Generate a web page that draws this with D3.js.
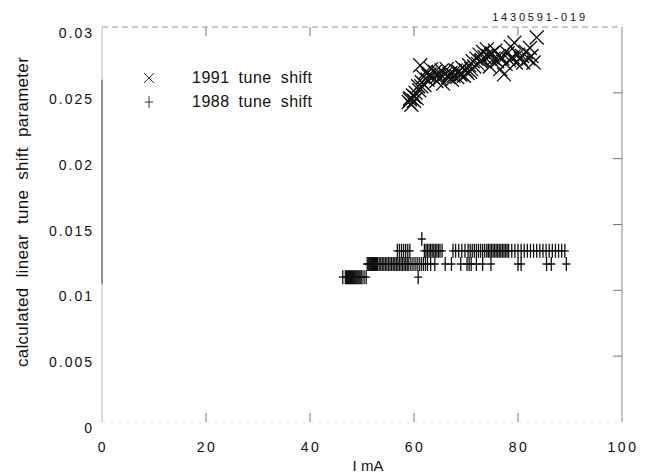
<!DOCTYPE html>
<html>
<head>
<meta charset="utf-8">
<script src="https://cdn.jsdelivr.net/npm/d3@7"></script>
<style>
  body { margin: 0; background: #fff; }
  text { font-family: 'Liberation Sans', Arial, sans-serif; fill: #111; }
</style>
</head>
<body>
<div id="chart"></div>
<script>
// tune shift vs beam current

const xTicks = [0, 20, 40, 60, 80, 100]
const yTicks = [0, 0.005, 0.01, 0.015, 0.02, 0.025, 0.03]
const yTickLabels = ['0', '0.005', '0.01', '0.015', '0.02', '0.025', '0.03']

// 1991 tune shift (x marks): [I mA, parameter]
const shift1991 = [
  [59.0, 0.0243], [59.3, 0.0246], [59.5, 0.0241], [59.8, 0.0248], [60.0, 0.0244],
  [60.3, 0.0250], [60.5, 0.0246], [60.8, 0.0255], [61.0, 0.0252], [61.2, 0.0271],
  [61.5, 0.0258], [61.8, 0.0262], [62.0, 0.0256], [62.3, 0.0266], [62.6, 0.0260],
  [63.0, 0.0264], [63.3, 0.0268], [63.6, 0.0262], [64.0, 0.0266], [64.3, 0.0259],
  [64.6, 0.0263], [65.0, 0.0261], [65.3, 0.0267], [65.6, 0.0257], [66.0, 0.0264],
  [66.3, 0.0268], [66.6, 0.0262], [67.0, 0.0265], [67.3, 0.0260], [67.6, 0.0263],
  [68.0, 0.0267], [68.3, 0.0262], [68.6, 0.0266], [69.0, 0.0264], [69.3, 0.0269],
  [69.6, 0.0263], [70.0, 0.0267], [70.3, 0.0265], [70.6, 0.0271], [71.0, 0.0268],
  [71.3, 0.0274], [71.6, 0.0270], [72.0, 0.0276], [72.3, 0.0272], [72.6, 0.0279],
  [73.0, 0.0275], [73.3, 0.0281], [73.6, 0.0277], [74.0, 0.0283], [74.3, 0.0278],
  [74.6, 0.0270], [75.0, 0.0280], [75.3, 0.0276], [75.6, 0.0282], [76.0, 0.0274],
  [76.3, 0.0278], [76.6, 0.0268], [77.0, 0.0276], [77.3, 0.0264], [77.6, 0.0272],
  [78.0, 0.0280], [78.3, 0.0275], [78.6, 0.0285], [79.0, 0.0277], [79.3, 0.0288],
  [79.6, 0.0273], [80.0, 0.0279], [80.5, 0.0276], [81.0, 0.0273], [81.5, 0.0281],
  [82.0, 0.0276], [82.3, 0.0284], [82.6, 0.0278], [83.0, 0.0273], [83.6, 0.0292],
  [59.2, 0.0245], [60.1, 0.0247], [61.4, 0.0255], [62.8, 0.0263], [64.8, 0.0265],
  [66.8, 0.0264], [68.8, 0.0264], [70.8, 0.0266], [72.8, 0.0274], [74.8, 0.0279],
  [76.8, 0.0277], [78.8, 0.0276], [80.8, 0.0278]
]

// 1988 tune shift (plus marks), values sit on three levels
const current1988at011 = [46.3, 46.8, 47.0, 47.2, 47.4, 47.6, 47.8, 48.0, 48.2, 48.4,
  48.6, 48.8, 49.0, 49.2, 49.4, 49.6, 49.8, 50.0, 50.4, 50.8, 60.8]
const current1988at012 = [51.0, 51.2, 51.4, 51.6, 51.8, 52.0, 52.2, 52.4, 52.6, 52.8,
  53.0, 53.3, 53.6, 53.9, 54.2, 54.5, 54.8, 55.1, 55.4, 55.7, 56.0, 56.3, 56.6, 56.9,
  57.2, 57.5, 57.8, 58.1, 58.4, 58.7, 59.0, 59.4, 59.8, 60.2, 60.6, 61.0, 61.4, 61.8,
  62.2, 62.6, 63.2, 64.0, 66.0, 67.2, 69.0, 70.2, 70.6, 71.0, 72.0, 73.2, 74.8, 80.0,
  80.6, 85.5, 86.4, 89.3]
const current1988at013 = [56.8, 57.2, 57.6, 58.0, 58.4, 58.8, 59.2, 62.0, 62.3, 62.6,
  62.9, 63.2, 63.5, 63.8, 64.1, 64.4, 64.7, 65.0, 65.4, 67.5, 68.0, 68.6, 69.2, 69.8,
  70.4, 70.8, 71.2, 71.6, 72.0, 72.4, 72.8, 73.2, 73.6, 74.0, 74.3, 74.6, 74.9, 75.2,
  75.5, 75.8, 76.1, 76.4, 76.7, 77.0, 77.3, 77.6, 77.9, 78.2, 78.8, 79.4, 80.0, 80.6,
  81.2, 81.8, 82.4, 83.0, 83.6, 84.2, 84.8, 85.4, 86.0, 86.6, 87.2, 87.8, 88.4, 89.0]
const extra1988 = [[61.5, 0.0139]]

const shift1988 = [
  ...current1988at011.map(c => [c, 0.011]),
  ...current1988at012.map(c => [c, 0.012]),
  ...current1988at013.map(c => [c, 0.013]),
  ...extra1988
]

const legendItems = ['1991 tune shift', '1988 tune shift']

const width = 653
const height = 476

const svg = d3.select('#chart')
.append('svg')
.attr('width', width)
.attr('height', height)

const x = d3.scaleLinear()
.domain([0, 100])
.range([102, 622])
const y = d3.scaleLinear()
.domain([0, 0.03])
.range([422, 27])

// frame, faint like the photocopy
const frame = svg.append('g')
.attr('fill', 'none')

frame.append('line')
  .attr('x1', x(0)).attr('x2', x(100)).attr('y1', y(0.03)).attr('y2', y(0.03))
  .attr('stroke', '#999').attr('stroke-dasharray', '6,4')
frame.append('line')
  .attr('x1', x(0)).attr('x2', x(100)).attr('y1', y(0)).attr('y2', y(0))
  .attr('stroke', '#e4e4e4').attr('stroke-dasharray', '3,5')
frame.append('line')
  .attr('x1', x(0)).attr('x2', x(0)).attr('y1', y(0)).attr('y2', y(0.03))
  .attr('stroke', '#bbb')
frame.append('line')
  .attr('x1', x(0)).attr('x2', x(0)).attr('y1', y(0.0105)).attr('y2', y(0.026))
  .attr('stroke', '#444')
frame.append('line')
  .attr('x1', x(100)).attr('x2', x(100)).attr('y1', y(0)).attr('y2', y(0.03))
  .attr('stroke', '#888')

// inward ticks
const tickLen = 9
svg.append('g')
  .selectAll('line')
  .data(xTicks.slice(1, -1))
  .join('line')
  .attr('x1', d => x(d)).attr('x2', d => x(d))
  .attr('y1', y(0)).attr('y2', y(0) - tickLen)
  .attr('stroke', '#777')
svg.append('g')
  .selectAll('line')
  .data(xTicks.slice(1, -1))
  .join('line')
  .attr('x1', d => x(d)).attr('x2', d => x(d))
  .attr('y1', y(0.03)).attr('y2', y(0.03) + tickLen)
  .attr('stroke', '#777')
svg.append('g')
  .selectAll('line')
  .data(yTicks.slice(1, -1))
  .join('line')
  .attr('x1', x(100)).attr('x2', x(100) - tickLen)
  .attr('y1', d => y(d)).attr('y2', d => y(d))
  .attr('stroke', '#777')

// tick labels
svg.append('g')
  .selectAll('text')
  .data(xTicks)
  .join('text')
  .attr('x', d => x(d) + 1)
  .attr('y', 452)
  .attr('text-anchor', 'middle')
  .attr('font-size', 14)
  .attr('letter-spacing', 2.5)
  .text(d => d)

svg.append('g')
  .selectAll('text')
  .data(yTicks)
  .join('text')
  .attr('x', 94)
  .attr('y', d => y(d) + 11)
  .attr('text-anchor', 'end')
  .attr('font-size', 14)
  .attr('letter-spacing', 2)
  .text((d, i) => yTickLabels[i])

svg.append('text')
  .attr('x', 368)
  .attr('y', 471)
  .attr('text-anchor', 'middle')
  .attr('font-size', 15)
  .text('I mA')

svg.append('text')
  .attr('transform', 'translate(28, 212) rotate(-90)')
  .attr('text-anchor', 'middle')
  .attr('font-size', 17)
  .attr('letter-spacing', 0.3)
  .attr('word-spacing', 5)
  .text('calculated  linear tune shift parameter')

svg.append('text')
  .attr('x', 540)
  .attr('y', 21)
  .attr('text-anchor', 'middle')
  .attr('font-size', 11)
  .attr('letter-spacing', 2.8)
  .text('1430591-019')

// markers
const cross = (g, s) => g.append('path')
  .attr('d', `M${-s},${-s}L${s},${s}M${-s},${s}L${s},${-s}`)
const plus = (g, w, h) => g.append('path')
  .attr('d', `M0,${-h}V${h}M${-w},0H${w}`)

const plotG = svg.append('g')
.attr('fill', 'none')

plotG.append('g')
  .attr('stroke', '#111')
  .attr('stroke-width', 1.3)
  .selectAll('g')
  .data(shift1988)
  .join('g')
  .attr('transform', d => `translate(${x(d[0])},${y(d[1])})`)
  .each(function () { plus(d3.select(this), 4, 7) })

plotG.append('g')
  .attr('stroke', '#111')
  .attr('stroke-width', 1.3)
  .selectAll('g')
  .data(shift1991)
  .join('g')
  .attr('transform', d => `translate(${x(d[0])},${y(d[1])})`)
  .each(function () { cross(d3.select(this), 7) })

// legend
const legend = svg.append('g')
legendItems.forEach((label, i) => {
  const row = legend.append('g')
    .attr('transform', `translate(149, ${78 + i * 24})`)
  const mark = row.append('g')
    .attr('fill', 'none')
    .attr('stroke', '#333')
  if (i === 0) cross(mark, 5)
  else plus(mark, 4, 6)
  row.append('text')
    .attr('x', 43)
    .attr('y', 5)
    .attr('font-size', 16)
    .attr('letter-spacing', 0.5)
    .attr('word-spacing', 4)
    .text(label)
})
</script>
</body>
</html>
